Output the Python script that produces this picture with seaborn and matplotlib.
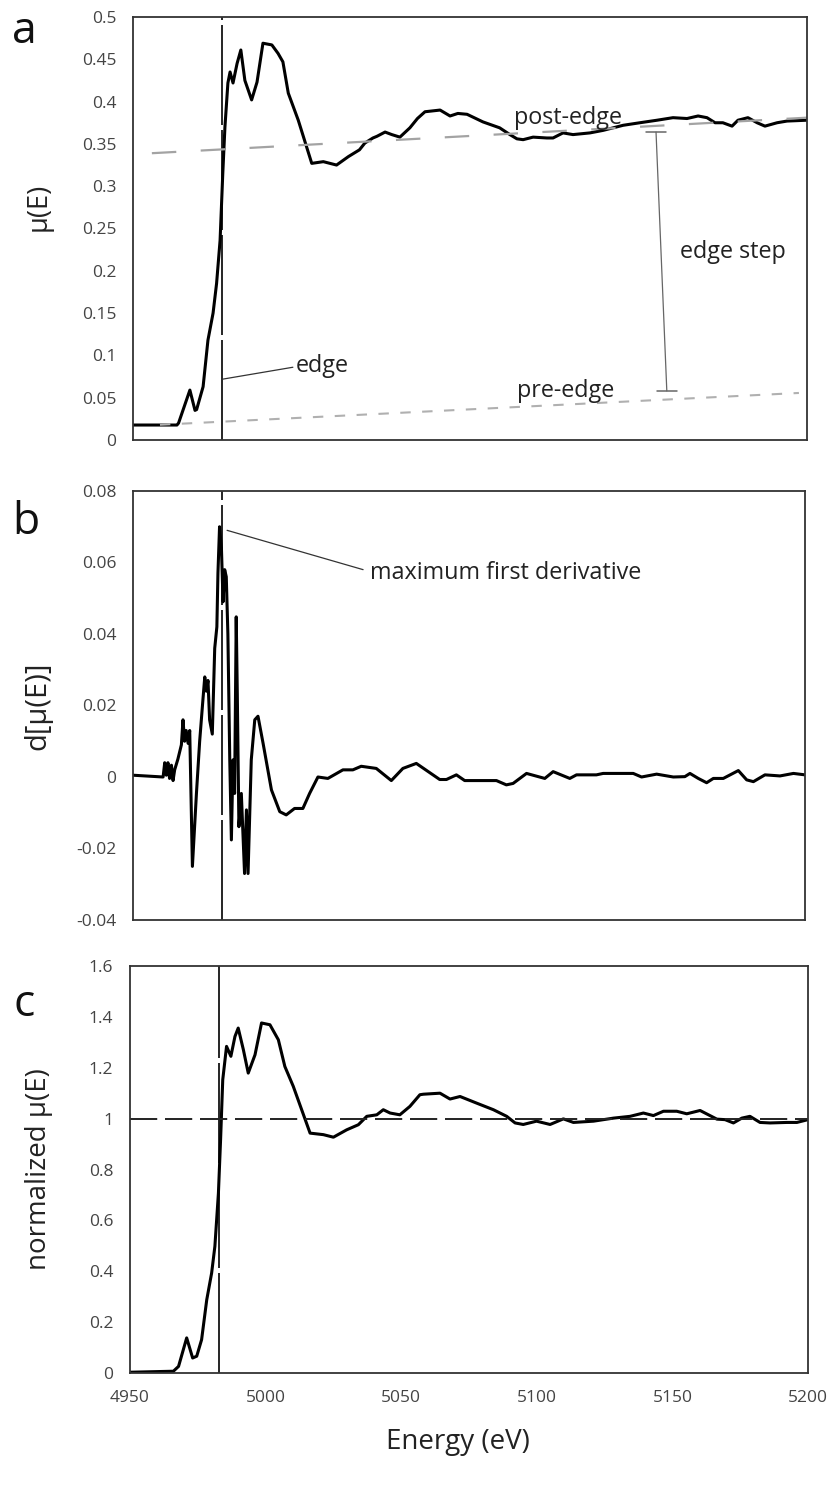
import matplotlib
matplotlib.use("Agg")
import matplotlib.pyplot as plt
import seaborn as sns

# --- data ---
# panel a: raw absorption mu(E)
energy_a = [4950, 4966.3, 4966.9, 4971.1, 4973.0, 4973.6, 4976.0, 4977.8, 4979.7, 4981.0,
            4982.3, 4983.3, 4984.1, 4985.2, 4986.0, 4987.1, 4988.6, 4990.0, 4991.5, 4994.0,
            4996.0, 4998.2, 5001.5, 5003.8, 5005.6, 5007.6, 5011.3, 5016.3, 5020.6, 5025.5,
            5029.9, 5034.0, 5036.0, 5039.0, 5040.5, 5043.5, 5046.0, 5049.0, 5052.7, 5055.5,
            5058.3, 5063.9, 5067.6, 5070.5, 5073.9, 5079.8, 5086.0, 5089.8, 5092.4, 5094.7,
            5098.4, 5103.5, 5105.8, 5109.5, 5113.2, 5119.5, 5124.4, 5131.8, 5138.0, 5144.4,
            5150.3, 5155.5, 5159.6, 5162.9, 5165.9, 5168.8, 5172.2, 5174.4, 5178.1, 5181.5,
            5184.4, 5188.9, 5192.6, 5200]
mu_a = [0.0177, 0.0177, 0.020, 0.059, 0.035, 0.036, 0.063, 0.118, 0.150, 0.185,
        0.236, 0.315, 0.370, 0.422, 0.435, 0.422, 0.445, 0.461, 0.425, 0.402,
        0.423, 0.469, 0.467, 0.457, 0.447, 0.410, 0.378, 0.327, 0.329, 0.325,
        0.335, 0.343, 0.351, 0.357, 0.359, 0.364, 0.361, 0.358, 0.369, 0.380,
        0.388, 0.390, 0.383, 0.386, 0.385, 0.376, 0.369, 0.361, 0.356, 0.355,
        0.358, 0.357, 0.357, 0.363, 0.361, 0.363, 0.366, 0.372, 0.375, 0.378,
        0.381, 0.380, 0.383, 0.381, 0.375, 0.375, 0.371, 0.378, 0.381, 0.375,
        0.371, 0.375, 0.377, 0.378]

# panel b: first derivative
energy_b = [4950, 4961.2, 4961.8, 4962.4, 4963.0, 4963.6, 4964.3, 4964.9, 4965.5, 4966.7,
            4968.0, 4968.6, 4969.2, 4969.8, 4970.5, 4971.1, 4972.1, 4973.6, 4974.8, 4976.0,
            4976.7, 4977.3, 4977.9, 4978.5, 4979.5, 4980.4, 4981.2, 4981.6, 4982.2, 4982.9,
            4983.5, 4984.1, 4984.7, 4985.3, 4986.0, 4986.6, 4987.2, 4987.8, 4988.4, 4988.8,
            4989.4, 4990.3, 4991.5, 4992.2, 4992.8, 4994.0, 4995.3, 4996.5, 4998.4, 5001.5,
            5004.6, 5007.0, 5010.1, 5013.2, 5015.7, 5018.8, 5022.5, 5028.1, 5031.8, 5034.9,
            5040.5, 5046.1, 5050.4, 5055.4, 5064.1, 5066.6, 5070.3, 5073.4, 5085.2, 5088.9,
            5091.4, 5096.4, 5103.2, 5106.3, 5112.5, 5115.0, 5122.4, 5124.9, 5136.1, 5139.2,
            5144.8, 5151.0, 5155.3, 5157.2, 5160.3, 5163.4, 5165.9, 5169.6, 5175.2, 5178.3,
            5180.8, 5185.1, 5190.7, 5195.7, 5200]
dmu_b = [0.0005, 0.0, 0.004, 0.0005, 0.004, -0.0004, 0.0033, -0.001, 0.002, 0.005,
         0.009, 0.016, 0.010, 0.013, 0.0094, 0.013, -0.025, -0.0046, 0.010, 0.0215,
         0.028, 0.024, 0.027, 0.016, 0.012, 0.036, 0.042, 0.057, 0.070, 0.064,
         0.049, 0.058, 0.056, 0.040, 0.0048, -0.0176, 0.0048, -0.0046, 0.0448, 0.0234,
         -0.0139, -0.0046, -0.027, -0.0092, -0.027, 0.0048, 0.016, 0.017, 0.0094, -0.0036,
         -0.0097, -0.0106, -0.0088, -0.0088, -0.0046, 0.0, -0.0004, 0.002, 0.002, 0.003,
         0.0024, -0.001, 0.0024, 0.0038, -0.0007, -0.0007, 0.0006, -0.001, -0.001, -0.0022,
         -0.0018, 0.001, -0.0004, 0.0015, -0.0004, 0.0006, 0.0006, 0.001, 0.001, 0.0,
         0.0008, 0.0, 0.0001, 0.001, -0.0004, -0.0016, -0.0004, -0.0004, 0.0018, -0.0008,
         -0.0013, 0.0006, 0.0003, 0.001, 0.0006]

# panel c: normalized mu(E)
energy_c = [4950, 4966.0, 4967.9, 4970.9, 4973.1, 4974.6, 4976.4, 4978.3, 4980.1, 4981.3,
            4982.6, 4983.4, 4984.2, 4985.6, 4987.2, 4988.7, 4989.9, 4991.8, 4993.6, 4996.1,
            4998.5, 5001.6, 5004.7, 5007.1, 5010.2, 5016.4, 5021.3, 5025.0, 5029.9, 5034.2,
            5037.3, 5041.0, 5043.4, 5045.9, 5049.5, 5053.2, 5056.9, 5058.2, 5064.3, 5068.0,
            5071.7, 5077.8, 5084.0, 5088.9, 5092.0, 5095.0, 5099.9, 5104.9, 5109.8, 5113.5,
            5120.9, 5128.3, 5134.4, 5139.3, 5143.0, 5146.7, 5151.6, 5155.3, 5160.2, 5163.3,
            5166.4, 5169.4, 5172.5, 5175.6, 5178.6, 5182.3, 5186.0, 5192.2, 5195.9, 5200]
norm_c = [0.003, 0.007, 0.026, 0.138, 0.059, 0.066, 0.131, 0.288, 0.393, 0.498,
          0.707, 0.917, 1.153, 1.284, 1.245, 1.323, 1.356, 1.271, 1.179, 1.251,
          1.376, 1.369, 1.310, 1.205, 1.127, 0.943, 0.937, 0.927, 0.956, 0.976,
          1.009, 1.015, 1.035, 1.022, 1.015, 1.048, 1.094, 1.096, 1.100, 1.077,
          1.087, 1.061, 1.035, 1.009, 0.983, 0.977, 0.990, 0.977, 0.999, 0.985,
          0.990, 1.002, 1.009, 1.022, 1.012, 1.029, 1.029, 1.019, 1.032, 1.015,
          0.998, 0.996, 0.983, 1.002, 1.009, 0.985, 0.983, 0.985, 0.985, 0.996]

edge_energy = 4983
post_edge_x = [4957, 5200]
post_edge_y = [0.339, 0.381]
pre_edge_x = [4960, 5197]
pre_edge_y = [0.018, 0.0556]
step_x = [5144, 5148]
step_y = [0.364, 0.058]

sns.set_style("white")
plt.rcParams["font.family"] = ["Open Sans", "DejaVu Sans"]

W, H = 830, 1485
fig = plt.figure(figsize=(W / 100, H / 100), dpi=100)

def rect(left, right, top, bottom):
    return [left / W, 1 - bottom / H, (right - left) / W, (bottom - top) / H]

ax_a = fig.add_axes(rect(133, 807, 17, 440))
ax_b = fig.add_axes(rect(133, 805, 491, 920))
ax_c = fig.add_axes(rect(130, 808, 966, 1373))

tick_col = "#444444"
txt_col = "#222222"
ann_size = 16.8
for ax in (ax_a, ax_b, ax_c):
    ax.set_xlim(4950, 5200)
    ax.set_xticks([4950, 5000, 5050, 5100, 5150, 5200])
    ax.tick_params(length=0, labelsize=12.5, colors=tick_col, pad=12)
    for s in ax.spines.values():
        s.set_color("#333333")
        s.set_linewidth(1.3)
    ax.axvline(edge_energy, color="black", lw=1.2, dashes=(60, 3))

# --- panel a ---
sns.lineplot(x=energy_a, y=mu_a, ax=ax_a, color="black", lw=2.2,
             estimator=None, sort=False)
ax_a.plot(post_edge_x, post_edge_y, color="#a3a3a3", lw=1.6, dashes=(11, 11))
ax_a.plot(pre_edge_x, pre_edge_y, color="#b0b0b0", lw=1.5, dashes=(5, 5.5))
ax_a.set_ylim(0, 0.5)
ax_a.set_yticks([0, 0.05, 0.1, 0.15, 0.2, 0.25, 0.3, 0.35, 0.4, 0.45, 0.5])
ax_a.set_yticklabels(["0", "0.05", "0.1", "0.15", "0.2", "0.25", "0.3", "0.35", "0.4", "0.45", "0.5"])
ax_a.set_xticklabels([])
ax_a.set_ylabel("μ(E)", fontsize=19.5, color=txt_col)
ax_a.yaxis.set_label_coords(-0.119, 0.55)

# edge step bar
ax_a.plot(step_x, step_y, color="#666666", lw=0.9)
ax_a.plot([5140.3, 5147.8], [step_y[0]] * 2, color="#666666", lw=1.1)
ax_a.plot([5144.4, 5151.8], [step_y[1]] * 2, color="#666666", lw=1.1)
ax_a.text(5153, 0.222, "edge step", fontsize=ann_size, va="center", color=txt_col)
ax_a.text(5091.5, 0.381, "post-edge", fontsize=ann_size, va="center", color=txt_col)
ax_a.text(5092.4, 0.058, "pre-edge", fontsize=ann_size, va="center", color=txt_col)
ax_a.plot([4983.4, 5009.3], [0.072, 0.086], color="#333333", lw=0.9)
ax_a.text(5010.5, 0.087, "edge", fontsize=ann_size, va="center", color=txt_col)

# --- panel b ---
sns.lineplot(x=energy_b, y=dmu_b, ax=ax_b, color="black", lw=2.2,
             estimator=None, sort=False)
ax_b.set_ylim(-0.04, 0.08)
ax_b.set_yticks([-0.04, -0.02, 0, 0.02, 0.04, 0.06, 0.08])
ax_b.set_yticklabels(["-0.04", "-0.02", "0", "0.02", "0.04", "0.06", "0.08"])
ax_b.set_xticklabels([])
ax_b.set_ylabel("d[μ(E)]", fontsize=21, color=txt_col)
ax_b.yaxis.set_label_coords(-0.1205, 0.5)
ax_b.plot([4985, 5035.6], [0.069, 0.058], color="#333333", lw=0.9)
ax_b.text(5038, 0.0572, "maximum first derivative", fontsize=ann_size, va="center", color=txt_col)

# --- panel c ---
sns.lineplot(x=energy_c, y=norm_c, ax=ax_c, color="black", lw=2.2,
             estimator=None, sort=False)
ax_c.axhline(1, color="#222222", lw=1.4, dashes=(14, 4))
ax_c.set_ylim(0, 1.6)
ax_c.set_yticks([0, 0.2, 0.4, 0.6, 0.8, 1.0, 1.2, 1.4, 1.6])
ax_c.set_yticklabels(["0", "0.2", "0.4", "0.6", "0.8", "1", "1.2", "1.4", "1.6"])
ax_c.set_xticklabels(["4950", "5000", "5050", "5100", "5150", "5200"])
ax_c.set_ylabel("normalized μ(E)", fontsize=20, color=txt_col)
ax_c.yaxis.set_label_coords(-0.1136, 0.5)
ax_c.set_xlabel("Energy (eV)", fontsize=20, color=txt_col, labelpad=10)
ax_c.xaxis.set_label_coords(0.484, -0.135)

# panel letters
fig.text(12 / W, 1 - 32 / H, "a", fontsize=32, va="center", ha="left", color="#111111")
fig.text(12 / W, 1 - 523 / H, "b", fontsize=32, va="center", ha="left", color="#111111")
fig.text(14 / W, 1 - 1005 / H, "c", fontsize=32, va="center", ha="left", color="#111111")

fig.savefig("out.png", dpi=100)
